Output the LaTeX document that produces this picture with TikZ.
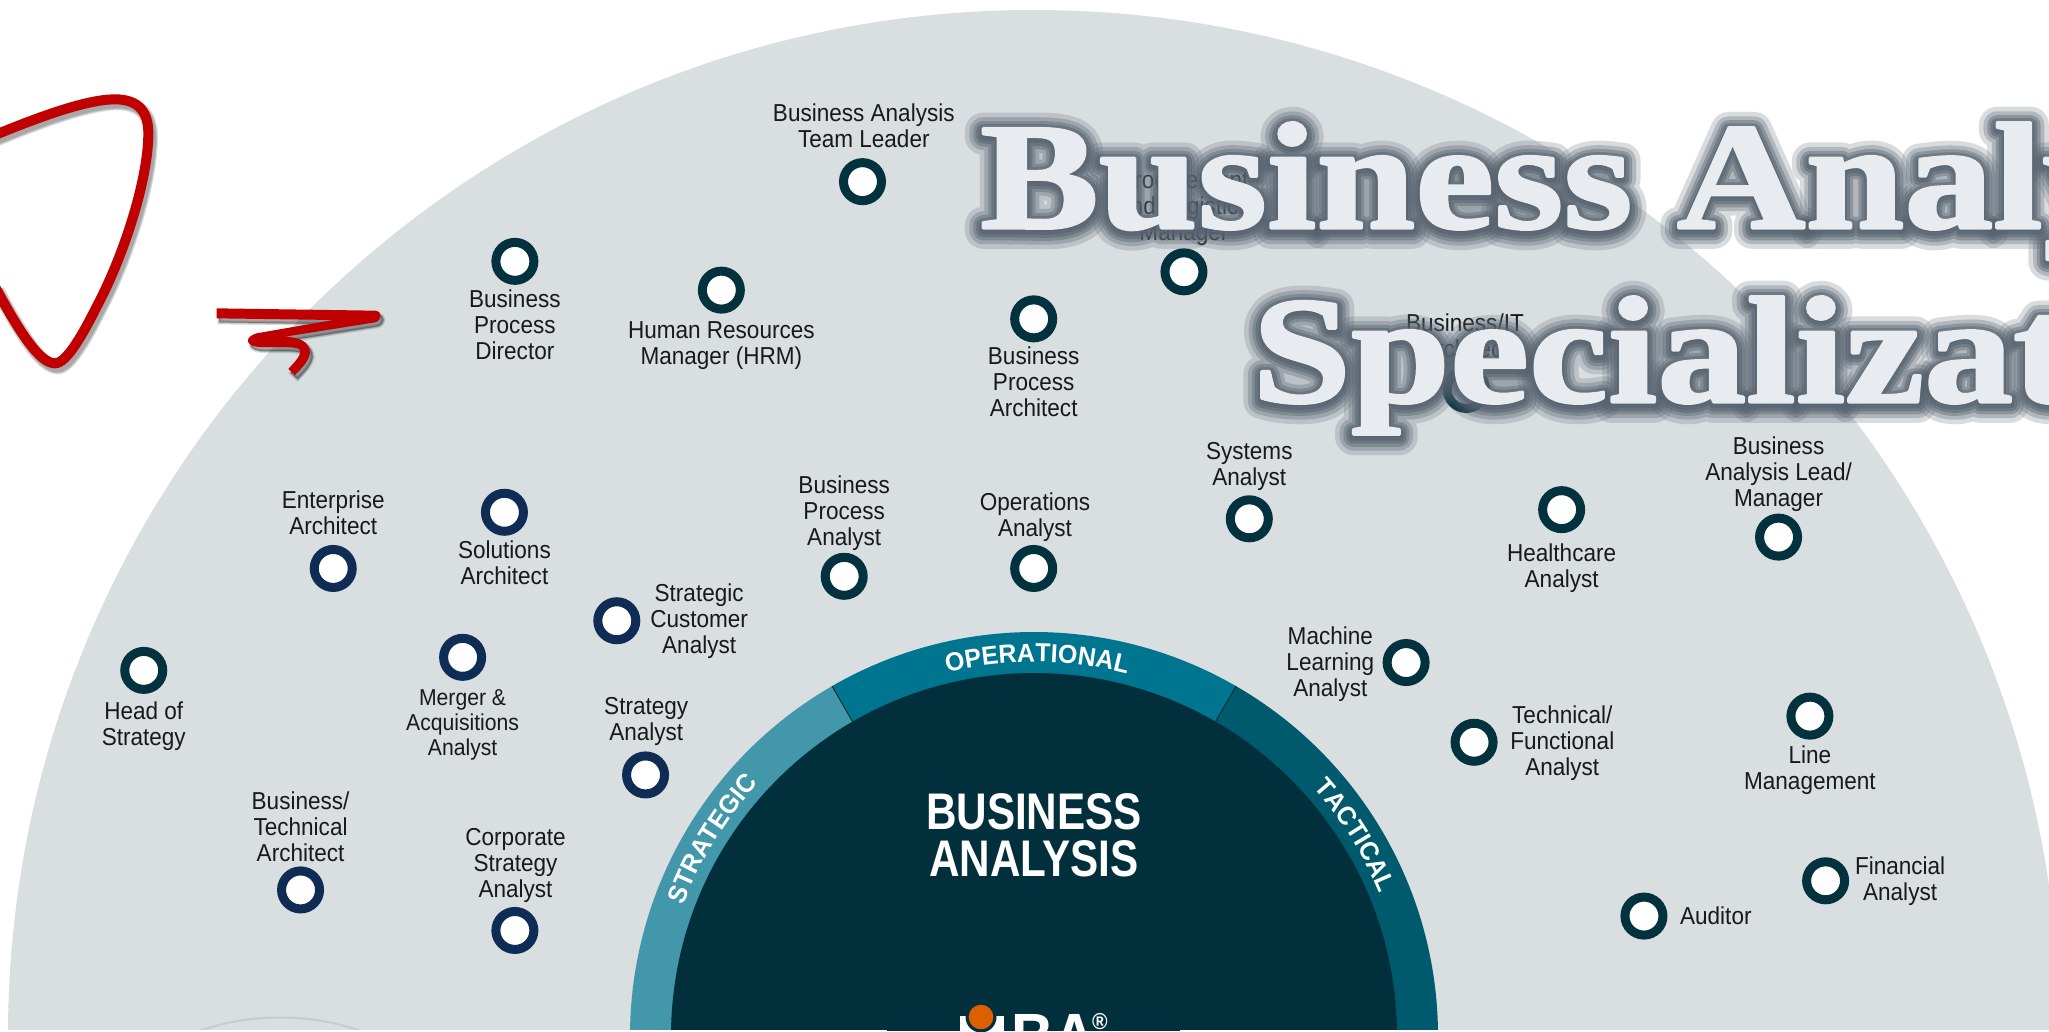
\documentclass[tikz,border=0pt]{standalone}
\usepackage{fontspec}
\usetikzlibrary{decorations.text}
\newfontfamily\lblfam[FakeStretch=.92]{Liberation Sans}
\newfontfamily\arcfam[FakeStretch=.96]{Liberation Sans}
\newfontfamily\ctrfam[FakeStretch=.82]{Liberation Sans}
\newfontface\ttlf[FakeStretch=1.17,FakeBold=2]{Liberation Serif Bold}
\newfontface\gla[FakeStretch=1.17,FakeBold=5]{Liberation Serif Bold}
\newfontface\glb[FakeStretch=1.17,FakeBold=9]{Liberation Serif Bold}
\newfontface\glc[FakeStretch=1.17,FakeBold=13]{Liberation Serif Bold}
\newfontface\gld[FakeStretch=1.17,FakeBold=18]{Liberation Serif Bold}
\newfontface\gle[FakeStretch=1.17,FakeBold=24]{Liberation Serif Bold}
\definecolor{bgc}{HTML}{D9DEE1}
\definecolor{stratc}{HTML}{4298AA}
\definecolor{operc}{HTML}{00758F}
\definecolor{tactc}{HTML}{005A6D}
\definecolor{innerc}{HTML}{01303C}
\definecolor{navyc}{HTML}{0F2C55}
\definecolor{tealc}{HTML}{01323E}
\definecolor{redc}{HTML}{C00000}
\definecolor{titlec}{HTML}{E8EBF0}
\definecolor{glowc}{HTML}{56626F}
\definecolor{orangec}{HTML}{DC6000}
\tikzset{
  ringbase/.style={circle,draw,line width=9pt,fill=white,minimum size=38pt,inner sep=0pt},
  ringnavy/.style={ringbase,draw=navyc},
  ringteal/.style={ringbase,draw=tealc},
  lab/.style={align=center,inner sep=0pt,text=black!90,font=\lblfam\fontsize{24.5}{26}\selectfont},
  labsmall/.style={align=center,inner sep=0pt,text=black!90,font=\lblfam\fontsize{23}{25}\selectfont},
  ttlnode/.style={anchor=base west,inner sep=0pt,text=titlec,font=\ttlf\fontsize{152}{152}\selectfont},
  glownode/.style={anchor=base west,inner sep=0pt,text=glowc,text opacity=#1},
  redline/.style={draw=redc,line width=10pt},
}
\newcommand{\arcf}{\fontsize{26}{26}\arcfam\bfseries\color{white}}
\newcommand{\looppath}{(-15,195) .. controls (120,140) and (260,88) .. (345,88) .. controls (420,88) and (445,130) .. (445,190) .. controls (445,330) and (370,560) .. (290,710) .. controls (250,790) and (200,880) .. (165,880) .. controls (120,880) and (60,790) .. (-15,650)}
\newcommand{\squigpath}{(650,715) -- (1125,722) .. controls (1148,724) and (1148,750) .. (1125,757) -- (855,800) .. controls (900,803) and (930,815) .. (930,850) .. controls (925,875) and (905,895) .. (885,915) -- (865,897) .. controls (885,875) and (905,855) .. (900,840) .. controls (890,825) and (800,835) .. (770,830) .. controls (735,825) and (735,800) .. (770,790) -- (1000,750) -- (650,745) -- cycle}
\begin{document}
\begin{tikzpicture}[x=1pt,y=-1pt]
\useasboundingbox (0,0) rectangle (2049,1031);
\fill[white] (0,0) rectangle (2049,1031);
\begin{scope}
\clip (0,0) rectangle (2049,1029);
\begin{scope}[shift={(1034,1036)},x=1pt,y=1pt]
  \fill[bgc] (0,0) circle[radius=1026];
  \fill[stratc] (0,0) -- (180:404) arc[start angle=180,end angle=120,radius=404] -- cycle;
  \fill[operc] (0,0) -- (120:404) arc[start angle=120,end angle=60,radius=404] -- cycle;
  \fill[tactc] (0,0) -- (60:404) arc[start angle=60,end angle=0,radius=404] -- cycle;
  \draw[innerc!70!black,line width=.8pt] (120:363) -- (120:404) (60:363) -- (60:404);
  \fill[innerc] (0,0) circle[radius=363];
  \path[postaction={decorate,decoration={text along path,text align=center,text={|\arcf|OPERATIONAL}}}] (114.5:374) arc[start angle=114.5,end angle=64.5,radius=374];
  \path[postaction={decorate,decoration={text along path,text align=center,text={|\arcf|STRATEGIC}}}] (178.5:374) arc[start angle=178.5,end angle=118.5,radius=374];
  \path[postaction={decorate,decoration={text along path,text align=center,text={|\arcf|TACTICAL}}}] (62:374) arc[start angle=62,end angle=2,radius=374];
\end{scope}
\draw[draw=black!8!bgc,line width=2pt] (199,1031) .. controls (250,1013) and (310,1013) .. (361,1031);
\end{scope}
% bottom logo area
\fill[innerc] (887,1029) rectangle (1180,1031);
\fill[white] (960,1016) rectangle (1004,1031);
\fill[innerc] (981,1017) circle[radius=15.5];
\fill[innerc] (977,1028) rectangle (987,1031);
\fill[orangec] (981,1017) circle[radius=12.3];
\begin{scope}
\clip (887,1000) rectangle (1180,1031);
\node[anchor=base west,inner sep=0pt,text=white,font=\lblfam\bfseries\fontsize{64}{64}\selectfont] (logo) at (1011,1058) {BA};
\node[anchor=center,inner sep=0pt,text=white,font=\lblfam\bfseries\fontsize{23}{23}\selectfont] (logor) at (1100,1022) {®};
\end{scope}
% rings and labels (positions in the 1568-wide frame)
\begin{scope}[x=1.3068pt,y=-1.3068pt]
\node[ringteal] (r1) at (660,139) {};
\node[ringteal] (r2) at (906,208) {};
\node[ringteal] (r3) at (791,244) {};
\node[ringteal] (r4) at (394,200) {};
\node[ringteal] (r5) at (552,222) {};
\node[ringteal] (r6) at (1122,298) {};
\node[ringnavy] (r7) at (255,435) {};
\node[ringnavy] (r8) at (386,392) {};
\node[ringnavy] (r9) at (472,475) {};
\node[ringnavy] (r10) at (354,503) {};
\node[ringteal] (r11) at (110,513) {};
\node[ringnavy] (r12) at (230,681) {};
\node[ringnavy] (r13) at (394,712) {};
\node[ringnavy] (r14) at (494,593) {};
\node[ringteal] (r15) at (646,441) {};
\node[ringteal] (r16) at (791,435) {};
\node[ringteal] (r17) at (956,397) {};
\node[ringteal] (r18) at (1195,390) {};
\node[ringteal] (r19) at (1361,411) {};
\node[ringteal] (r20) at (1076,507) {};
\node[ringteal] (r21) at (1128,568) {};
\node[ringteal] (r22) at (1385,548) {};
\node[ringteal] (r23) at (1397,674) {};
\node[ringteal] (r24) at (1258,701) {};
\node[lab] (t1) at (661,96) {Business Analysis\\Team Leader};
\node[lab] (t2) at (906,160) {Procurement\\and Logistics\\Manager};
\node[lab] (t3) at (791,292) {Business\\Process\\Architect};
\node[lab] (t4) at (394,248.5) {Business\\Process\\Director};
\node[lab] (t5) at (552,264.5) {Human Resources\\Manager (HRM)};
\node[lab] (t6) at (1121,257) {Business/IT\\Architect};
\node[lab] (t7) at (255,392.5) {Enterprise\\Architect};
\node[lab] (t8) at (386,431) {Solutions\\Architect};
\node[lab] (t9) at (535,475) {Strategic\\Customer\\Analyst};
\node[labsmall] (t10) at (354,554.5) {Merger \&\\Acquisitions\\Analyst};
\node[lab] (t11) at (110,556) {Head of\\Strategy};
\node[lab] (t12) at (230,633) {Business/\\Technical\\Architect};
\node[lab] (t13) at (394.5,662) {Corporate\\Strategy\\Analyst};
\node[lab] (t14) at (494.5,552) {Strategy\\Analyst};
\node[lab] (t15) at (646,393) {Business\\Process\\Analyst};
\node[lab] (t16) at (792,396) {Operations\\Analyst};
\node[lab] (t17) at (956,357) {Systems\\Analyst};
\node[lab] (t18) at (1195,435) {Healthcare\\Analyst};
\node[lab] (t19) at (1361,362.5) {Business\\Analysis Lead/\\Manager};
\node[lab] (t20) at (1018,508.5) {Machine\\Learning\\Analyst};
\node[lab] (t21) at (1195.5,569) {Technical/\\Functional\\Analyst};
\node[lab] (t22) at (1385,589) {Line\\Management};
\node[lab] (t23) at (1454,674.5) {Financial\\Analyst};
\node[lab] (t24) at (1313,701) {Auditor};
\end{scope}
\node[align=center,inner sep=0pt,text=white,font=\ctrfam\bfseries\fontsize{51.5}{47}\selectfont] (ctr) at (1034,835) {BUSINESS\\ANALYSIS};
% red marks
\begin{scope}[shift={(0,70)},x=.33333pt,y=-.33333pt]
  \foreach \w in {14,12,10}{\path[draw=black,opacity=.13,line width=\w pt,shift={(8,12)}] \looppath;}
  \draw[redline] \looppath;
  \foreach \w in {4,2,0.5}{\path[draw=black,fill=black,opacity=.13,line width=\w pt,shift={(8,12)}] \squigpath;}
  \fill[redc] \squigpath;
\end{scope}
% title glow and title
\begin{scope}[line join=round]
\foreach \g/\o in {\gle/.22,\gld/.3,\glc/.4,\glb/.5,\gla/.6}{
  \node[glownode=\o,font=\g\fontsize{152}{152}\selectfont] at (980,230.5) {Business Analy};
  \node[glownode=\o,font=\g\fontsize{152}{152}\selectfont] at (1252,404.5) {Specializat};
}
\node[ttlnode] (title1) at (980,228) {Business Analy};
\node[ttlnode] (title2) at (1252,402) {Specializat};
\end{scope}
\end{tikzpicture}
\end{document}
